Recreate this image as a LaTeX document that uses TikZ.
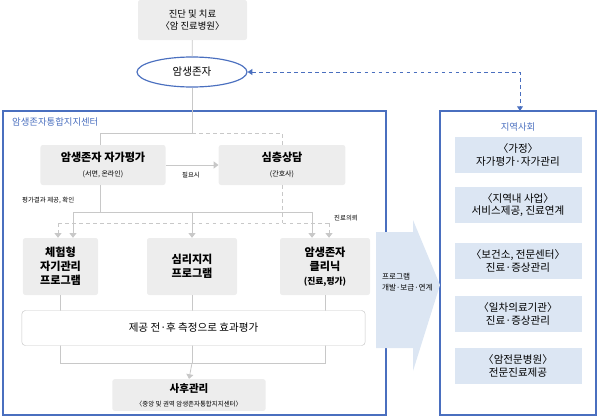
\documentclass[tikz,border=0pt]{standalone}
\usepackage{fontspec}
\setmainfont{Noto Sans CJK KR}
\usetikzlibrary{shapes.geometric,arrows.meta}
\definecolor{frameblue}{HTML}{4A6FBF}
\definecolor{boxgray}{HTML}{EDEDED}
\definecolor{boxblue}{HTML}{DCE6F3}
\definecolor{linegray}{HTML}{C8C8C8}
\tikzset{
  gbox/.style={fill=boxgray,rounded corners=2pt,align=center,inner sep=0pt},
  bbox/.style={fill=boxblue,align=center,inner sep=0pt,minimum width=3.81cm,minimum height=1.08cm,font=\fontsize{9}{11}\selectfont},
  link/.style={linegray,line width=0.7pt},
  dlink/.style={linegray,line width=0.7pt,dashed},
  tip/.style={-{Triangle[width=6pt,length=4pt]}},
  small/.style={font=\fontsize{5.5}{7}\selectfont}
}
\begin{document}
\begin{tikzpicture}[x=0.03cm,y=-0.03cm]
  \useasboundingbox (0,0) rectangle (600,418);
  % frames
  \draw[frameblue,line width=1pt] (3,111) rectangle (386,415);
  \draw[frameblue,line width=1pt] (440,111) rectangle (596,415);
  \node[anchor=west,text=frameblue,font=\fontsize{8}{10}\selectfont] (ctitle) at (8,122) {암생존자통합지지센터};
  \node[text=frameblue,font=\fontsize{8}{10}\selectfont] (ctitle2) at (518,127) {지역사회};
  % outward arrow
  \fill[boxblue] (376,232) -- (413,232) -- (413,220) -- (440,285) -- (413,371) -- (413,348) -- (376,348) -- cycle;
  \node[anchor=west,align=left,font=\fontsize{6.5}{9}\selectfont] (dev) at (378,282) {프로그램\\개발·보급·연계};
  % top
  \node[gbox,minimum width=3.27cm,minimum height=1.2cm,font=\fontsize{8}{10}\selectfont] (diag) at (192.5,20) {진단 및 치료\\〈암 진료병원〉};
  \node[ellipse,draw=frameblue,line width=1pt,minimum width=3.3cm,minimum height=0.9cm,font=\fontsize{9}{11}\selectfont] (surv) at (192,72) {암생존자};
  \draw[link] (diag) -- (surv);
  % upper row
  \node[gbox,minimum width=3.75cm,minimum height=1.2cm] (self) at (103,165) {{\fontsize{9.5}{12}\selectfont\bfseries 암생존자 자가평가}\\{\fontsize{6}{8}\selectfont (서면, 온라인)}};
  \node[gbox,minimum width=3.8cm,minimum height=1.2cm] (deep) at (282,165) {{\fontsize{9.5}{12}\selectfont\bfseries 심층상담}\\{\fontsize{6}{8}\selectfont (간호사)}};
  \coordinate (j1) at (192,133);
  \coordinate (j2) at (282,133);
  \coordinate (j3) at (100,133);
  \draw[link] (surv) -- (j1) -- (j3) -- (self.north -| j3);
  \draw[dlink] (j1) -- (j2) -- (deep.north);
  \draw[link,tip] (self.east) -- (deep.west);
  \node[small] (need) at (191,175) {필요시};
  \node[small,anchor=west] (res) at (18,200) {평가결과 제공, 확인};
  % lower row
  \node[gbox,minimum width=2.25cm,minimum height=1.71cm,font=\fontsize{9.5}{12}\selectfont\bfseries] (exp) at (60.5,266.5) {체험형\\자기관리\\프로그램};
  \node[gbox,minimum width=2.7cm,minimum height=1.71cm,font=\fontsize{9.5}{12}\selectfont\bfseries] (psy) at (192,266.5) {심리지지\\프로그램};
  \node[gbox,minimum width=2.7cm,minimum height=1.71cm,font=\fontsize{9.5}{12}\selectfont\bfseries] (clin) at (325,266.5) {암생존자\\클리닉\\{\fontsize{7.5}{10}\selectfont (진료,평가)}};
  \node[small,anchor=west] (refer) at (330,218) {진료의뢰};
  \coordinate (s1) at (100,212);
  \coordinate (s2) at (73,212);
  \coordinate (s3) at (312,212);
  \coordinate (d1) at (282,223);
  \coordinate (d2) at (58,223);
  \coordinate (d3) at (329,223);
  \draw[link] (self.south -| s1) -- (s1);
  \draw[link] (s2) -- (s3);
  \draw[link,tip] (s2) -- (s2 |- exp.north);
  \draw[link,tip] (192,212) -- (psy.north);
  \draw[link,tip] (s3) -- (s3 |- clin.north);
  \draw[dlink] (deep.south -| d1) -- (d1);
  \draw[dlink] (d2) -- (d3);
  \draw[dlink,tip] (d2) -- (d2 |- exp.north);
  \draw[dlink,tip] (d3) -- (d3 |- clin.north);
  % evaluation
  \coordinate (e1) at (60,363);
  \coordinate (e2) at (192,363);
  \coordinate (e3) at (325,363);
  \draw[link] (exp.south -| e1) -- (e1) -- (e3) -- (clin.south -| e3);
  \draw[link] (psy.south) -- (e2);
  \node[draw=linegray,fill=white,rounded corners=3pt,minimum width=10.3cm,minimum height=1.05cm,font=\fontsize{9}{11}\selectfont] (eval) at (193.5,328) {제공 전·후 측정으로 효과평가};
  \node[gbox,minimum width=4.6cm,minimum height=0.95cm] (after) at (189,395) {{\fontsize{9}{11}\selectfont\bfseries 사후관리}\\{\fontsize{5.5}{7}\selectfont 〈중앙 및 권역 암생존자통합지지센터〉}};
  \draw[link,tip] (e2) -- (after.north);
  % community
  \node[bbox] (home) at (518,155) {〈가정〉\\자가평가·자가관리};
  \node[bbox] (local) at (518,205) {〈지역내 사업〉\\서비스제공, 진료연계};
  \node[bbox] (health) at (518,261) {〈보건소, 전문센터〉\\진료·증상관리};
  \node[bbox] (prim) at (518,314) {〈일차의료기관〉\\진료·증상관리};
  \node[bbox] (hosp) at (518,366) {〈암전문병원〉\\전문진료제공};
  % link to community
  \coordinate (c1) at (520,72);
  \draw[frameblue,dashed,line width=0.8pt,{Triangle[width=5pt,length=4pt]}-{Triangle[width=5pt,length=4pt]}] (surv.east) -- (c1) -- (520,111);
\end{tikzpicture}
\end{document}
